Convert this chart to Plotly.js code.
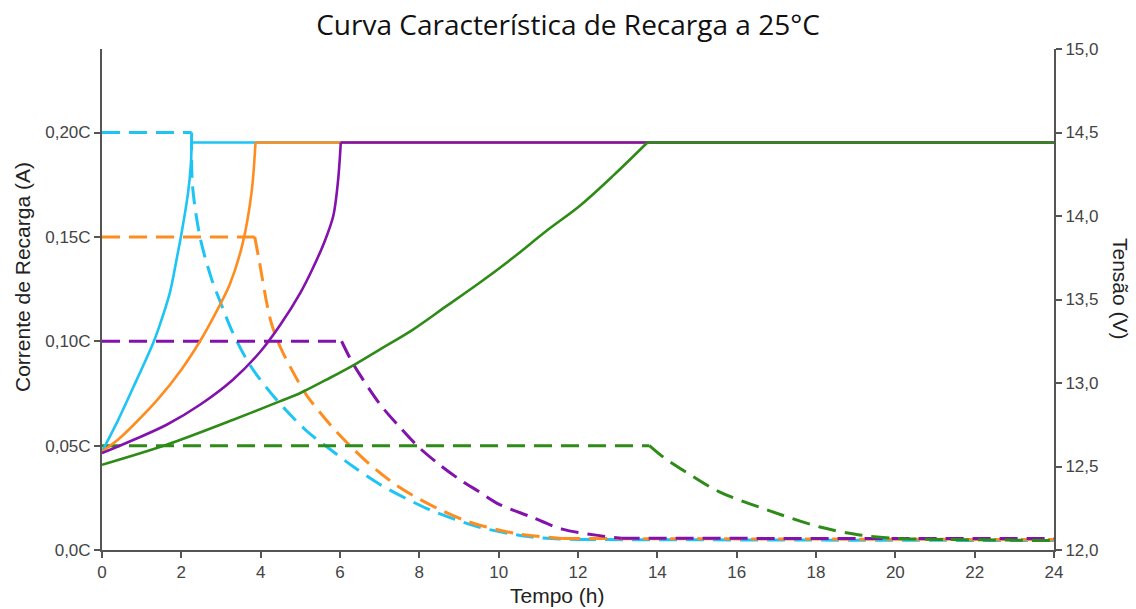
<!DOCTYPE html>
<html>
<head>
<meta charset="utf-8">
<script src="https://cdn.plot.ly/plotly-3.0.1.min.js"></script>
<style>html,body{margin:0;padding:0;background:#fff;}#chart{width:1136px;height:609px;}</style>
</head>
<body>
<div id="chart"></div>
<script>
// ---- Data (time in hours) ----
// Charging voltage (V) curves, right axis
const cyanVx = [0, 0.4, 0.79, 1.29, 1.46, 1.71, 1.88, 2.0, 2.17, 2.24, 2.26, 24];
const cyanVy = [12.59, 12.775, 12.975, 13.24, 13.35, 13.54, 13.74, 13.89, 14.14, 14.31, 14.44, 14.44];
const orangeVx = [0, 0.4, 0.8, 1.4, 2.0, 2.47, 2.8, 3.22, 3.54, 3.77, 3.87, 24];
const orangeVy = [12.59, 12.66, 12.75, 12.90, 13.08, 13.25, 13.39, 13.59, 13.83, 14.14, 14.44, 14.44];
const purpleVx = [0, 0.8, 1.63, 2.47, 3.3, 4.0, 4.5, 5.0, 5.3, 5.6, 5.83, 5.95, 6.02, 24];
const purpleVy = [12.58, 12.66, 12.75, 12.87, 13.02, 13.19, 13.35, 13.54, 13.68, 13.84, 14.00, 14.21, 14.44, 14.44];
const greenVx = [0, 1.63, 3.31, 4.48, 5.0, 5.74, 6.4, 7.0, 7.84, 8.68, 9.52, 10.36, 11.2, 12.04, 12.88, 13.75, 24];
const greenVy = [12.51, 12.63, 12.78, 12.89, 12.94, 13.03, 13.115, 13.20, 13.32, 13.46, 13.60, 13.75, 13.91, 14.06, 14.24, 14.44, 14.44];

// Charging current (C) curves, left axis
const cyanIx = [0, 2.26, 2.28, 2.47, 2.76, 3.0, 3.3, 3.75, 4.4, 5.16, 5.7, 6.33, 7.0, 7.84, 8.3, 9.5, 10.8, 12.0, 24];
const cyanIy = [0.20, 0.20, 0.175, 0.150, 0.130, 0.118, 0.104, 0.088, 0.072, 0.057, 0.049, 0.040, 0.0315, 0.023, 0.019, 0.011, 0.0063, 0.005, 0.0045];
const orangeIx = [0, 3.85, 3.95, 4.25, 4.5, 5.0, 5.2, 5.8, 6.25, 6.75, 7.35, 7.85, 8.5, 9.1, 9.5, 10.4, 11.6, 24];
const orangeIy = [0.15, 0.15, 0.140, 0.110, 0.097, 0.079, 0.073, 0.059, 0.050, 0.041, 0.032, 0.026, 0.0195, 0.0145, 0.012, 0.008, 0.0055, 0.005];
const purpleIx = [0, 6.04, 6.25, 6.5, 7.0, 7.5, 8.0, 8.5, 9.0, 9.5, 10.0, 10.8, 11.6, 12.5, 13.1, 24];
const purpleIy = [0.10, 0.10, 0.092, 0.084, 0.070, 0.059, 0.049, 0.041, 0.034, 0.028, 0.022, 0.016, 0.010, 0.007, 0.0056, 0.0055];
const greenIx = [0, 13.8, 14.15, 14.75, 15.55, 16.8, 18.1, 19.1, 20.0, 21.4, 24];
const greenIy = [0.05, 0.05, 0.0445, 0.037, 0.028, 0.019, 0.011, 0.0072, 0.0056, 0.005, 0.0045];

// Tick labels
const xTicks = [0, 2, 4, 6, 8, 10, 12, 14, 16, 18, 20, 22, 24];
const leftTickVals = [0, 0.05, 0.10, 0.15, 0.20];
const leftTickText = ["0,0C", "0,05C", "0,10C", "0,15C", "0,20C"];
const rightTickVals = [12.0, 12.5, 13.0, 13.5, 14.0, 14.5, 15.0];
const rightTickText = ["12,0", "12,5", "13,0", "13,5", "14,0", "14,5", "15,0"];

const cCyan = '#1DC4F4', cOrange = '#FF8C1F', cPurple = '#8312AC', cGreen = '#2E8B17';
const dash = '18px,9px';

function part(x, y, i0, i1, axis, c, w, d, shape) {
  return {x: x.slice(i0, i1 + 1), y: y.slice(i0, i1 + 1), yaxis: axis, mode: 'lines',
          line: {color: c, width: w, dash: d, shape: shape, smoothing: 0.9},
          hoverinfo: 'skip', showlegend: false};
}
// Solid voltage curve: smooth rise, then flat plateau
function solid(x, y, c) {
  const n = x.length;
  return [part(x, y, 0, n - 2, 'y2', c, 2.6, 'solid', 'spline'),
          part(x, y, n - 2, n - 1, 'y2', c, 2.6, 'solid', 'linear')];
}
// Dashed current curve: flat constant current, smooth decay, flat tail
function dashed(x, y, c) {
  const n = x.length;
  return [part(x, y, 0, 1, 'y', c, 3, dash, 'linear'),
          part(x, y, 1, n - 2, 'y', c, 3, dash, 'spline'),
          part(x, y, n - 2, n - 1, 'y', c, 3, dash, 'linear')];
}

const data = [].concat(
  dashed(cyanIx, cyanIy, cCyan),
  dashed(orangeIx, orangeIy, cOrange),
  dashed(purpleIx, purpleIy, cPurple),
  dashed(greenIx, greenIy, cGreen),
  solid(cyanVx, cyanVy, cCyan),
  solid(orangeVx, orangeVy, cOrange),
  solid(purpleVx, purpleVy, cPurple),
  solid(greenVx, greenVy, cGreen)
);

const FONT = 'Liberation Sans, Arial, sans-serif';
const tickFont = {family: FONT, size: 17, color: '#444'};
const axisCommon = {showgrid: false, zeroline: false, showline: true, linecolor: '#555', linewidth: 2,
                    ticks: 'outside', ticklen: 6, tickcolor: '#555', tickwidth: 2, tickfont: tickFont};
const layout = {
  width: 1136, height: 609,
  paper_bgcolor: '#fff', plot_bgcolor: '#fff',
  margin: {l: 102, r: 82, t: 49, b: 59},
  title: {text: 'Curva Característica de Recarga a 25°C', x: 0.5, xanchor: 'center', y: 0.958, yanchor: 'middle',
          font: {family: 'Open Sans, sans-serif', size: 28, color: '#111'}},
  xaxis: Object.assign({range: [0, 24], tickvals: xTicks, ticktext: xTicks.map(String)}, axisCommon),
  yaxis: Object.assign({range: [0, 0.24], tickvals: leftTickVals, ticktext: leftTickText}, axisCommon),
  yaxis2: Object.assign({range: [12, 15], overlaying: 'y', side: 'right', tickvals: rightTickVals, ticktext: rightTickText}, axisCommon),
  annotations: [
    {text: 'Tempo (h)', xref: 'paper', yref: 'paper', x: (557 - 102) / 952, y: -(595 - 550) / 501,
     xanchor: 'center', yanchor: 'middle', showarrow: false, font: {family: FONT, size: 21, color: '#222'}},
    {text: 'Corrente de Recarga (A)', xref: 'paper', yref: 'paper', x: -(102 - 22) / 952, y: (550 - 277) / 501,
     xanchor: 'center', yanchor: 'middle', textangle: -90, showarrow: false, font: {family: FONT, size: 21, color: '#222'}},
    {text: 'Tensão (V)', xref: 'paper', yref: 'paper', x: (1121 - 102) / 952, y: (550 - 289) / 501,
     xanchor: 'center', yanchor: 'middle', textangle: 90, showarrow: false, font: {family: FONT, size: 21, color: '#222'}}
  ]
};

Plotly.newPlot('chart', data, layout, {staticPlot: true, displayModeBar: false});
</script>
</body>
</html>
